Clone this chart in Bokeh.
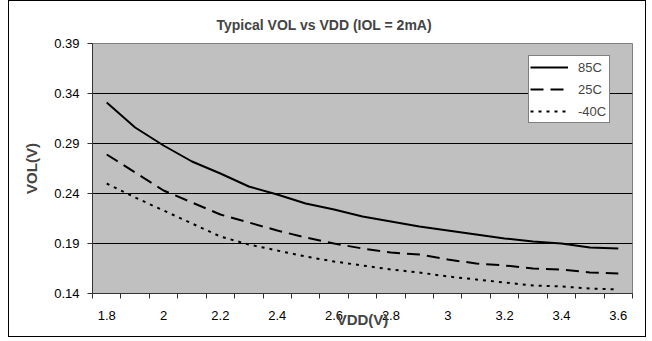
from bokeh.plotting import figure
from bokeh.models import FixedTicker, Legend, LegendItem, Range1d
from bokeh.embed import file_html
from bokeh.resources import INLINE

# ---- data ----
vdd = [1.8, 1.9, 2.0, 2.1, 2.2, 2.3, 2.4, 2.5, 2.6, 2.7, 2.8, 2.9, 3.0, 3.1, 3.2, 3.3, 3.4, 3.5, 3.6]
vol_85c = [0.331, 0.306, 0.288, 0.272, 0.260, 0.247, 0.239, 0.230, 0.224, 0.217,
           0.212, 0.207, 0.203, 0.199, 0.195, 0.192, 0.190, 0.186, 0.185]
vol_25c = [0.279, 0.261, 0.243, 0.231, 0.219, 0.211, 0.203, 0.196, 0.190, 0.185,
           0.181, 0.179, 0.174, 0.170, 0.168, 0.165, 0.164, 0.161, 0.160]
vol_m40c = [0.250, 0.236, 0.223, 0.210, 0.197, 0.189, 0.183, 0.177, 0.172, 0.168,
            0.164, 0.161, 0.157, 0.154, 0.151, 0.148, 0.147, 0.145, 0.144]
series_names = ["85C", "25C", "-40C"]

x_tick_values = [1.8, 2.0, 2.2, 2.4, 2.6, 2.8, 3.0, 3.2, 3.4, 3.6]
x_tick_labels = ["1.8", "2", "2.2", "2.4", "2.6", "2.8", "3", "3.2", "3.4", "3.6"]
y_tick_values = [0.14, 0.19, 0.24, 0.29, 0.34, 0.39]
y_tick_labels = ["0.14", "0.19", "0.24", "0.29", "0.34", "0.39"]

FONT = "Liberation Sans"

p = figure(width=638, height=337,
           x_range=Range1d(1.75, 3.65), y_range=Range1d(0.14, 0.39),
           output_backend="svg", toolbar_location=None,
           min_border_left=83, min_border_right=15,
           min_border_top=42, min_border_bottom=45)

p.styles = {"border": "1px solid black", "margin-left": "8px"}
p.background_fill_color = "#C0C0C0"
p.border_fill_color = "white"
p.outline_line_color = "#808080"
p.outline_line_width = 1

# title
p.title.text = "Typical VOL vs VDD (IOL = 2mA)"
p.title.text_font = FONT
p.title.text_font_size = "14px"
p.title.text_font_style = "bold"
p.title.align = "left"
p.title.offset = 124
p.title.standoff = 22

# category boundaries for tick marks
boundaries = [round(1.75 + 0.1 * k, 2) for k in range(20)]

xa = p.xaxis[0]
xa.ticker = FixedTicker(ticks=x_tick_values, minor_ticks=boundaries)
xa.major_label_overrides = {v: s for v, s in zip(x_tick_values, x_tick_labels)}
xa.major_tick_line_color = None
xa.minor_tick_line_color = "#333333"
xa.minor_tick_out = 5
xa.minor_tick_in = 0
xa.major_tick_out = 5
xa.major_tick_in = 0
xa.major_label_standoff = 12
xa.major_label_text_font = FONT
xa.major_label_text_font_size = "13px"
xa.major_label_text_color = "black"
xa.axis_line_color = "#333333"
xa.axis_label = "VDD(V)"
xa.axis_label_text_font = FONT
xa.axis_label_text_font_size = "15px"
xa.axis_label_text_font_style = "bold"
xa.axis_label_standoff = -12

ya = p.yaxis[0]
ya.ticker = FixedTicker(ticks=y_tick_values, minor_ticks=[])
ya.major_label_overrides = {v: s for v, s in zip(y_tick_values, y_tick_labels)}
ya.major_tick_line_color = "#333333"
ya.major_tick_out = 5
ya.major_tick_in = 0
ya.minor_tick_line_color = None
ya.major_label_standoff = 8
ya.major_label_text_font = FONT
ya.major_label_text_font_size = "13px"
ya.major_label_text_color = "black"
ya.axis_line_color = "#333333"
ya.axis_label = "VOL(V)"
ya.axis_label_text_font = FONT
ya.axis_label_text_font_size = "15px"
ya.axis_label_text_font_style = "bold"
ya.axis_label_standoff = 11

p.xgrid.visible = False
p.ygrid.ticker = FixedTicker(ticks=y_tick_values)
p.ygrid.grid_line_color = "black"
p.ygrid.grid_line_width = 1

r1 = p.line(vdd, vol_85c, line_color="black", line_width=2)
r2 = p.line(vdd, vol_25c, line_color="black", line_width=2, line_dash="13 7")
r3 = p.line(vdd, vol_m40c, line_color="black", line_width=2, line_dash="3 5")

legend = Legend(items=[LegendItem(label=series_names[0], renderers=[r1]),
                       LegendItem(label=series_names[1], renderers=[r2]),
                       LegendItem(label=series_names[2], renderers=[r3])],
                location=(436, 170))
legend.background_fill_color = "white"
legend.background_fill_alpha = 1
legend.border_line_color = "black"
legend.border_line_width = 1
legend.padding = 1
legend.spacing = 2
legend.margin = 0
legend.glyph_width = 38
legend.glyph_height = 20
legend.label_height = 20
legend.label_width = 30
legend.label_standoff = 10
legend.label_text_font = FONT
legend.label_text_font_size = "13px"
p.add_layout(legend, "center")

open("out.html", "w").write(file_html(p, INLINE))
